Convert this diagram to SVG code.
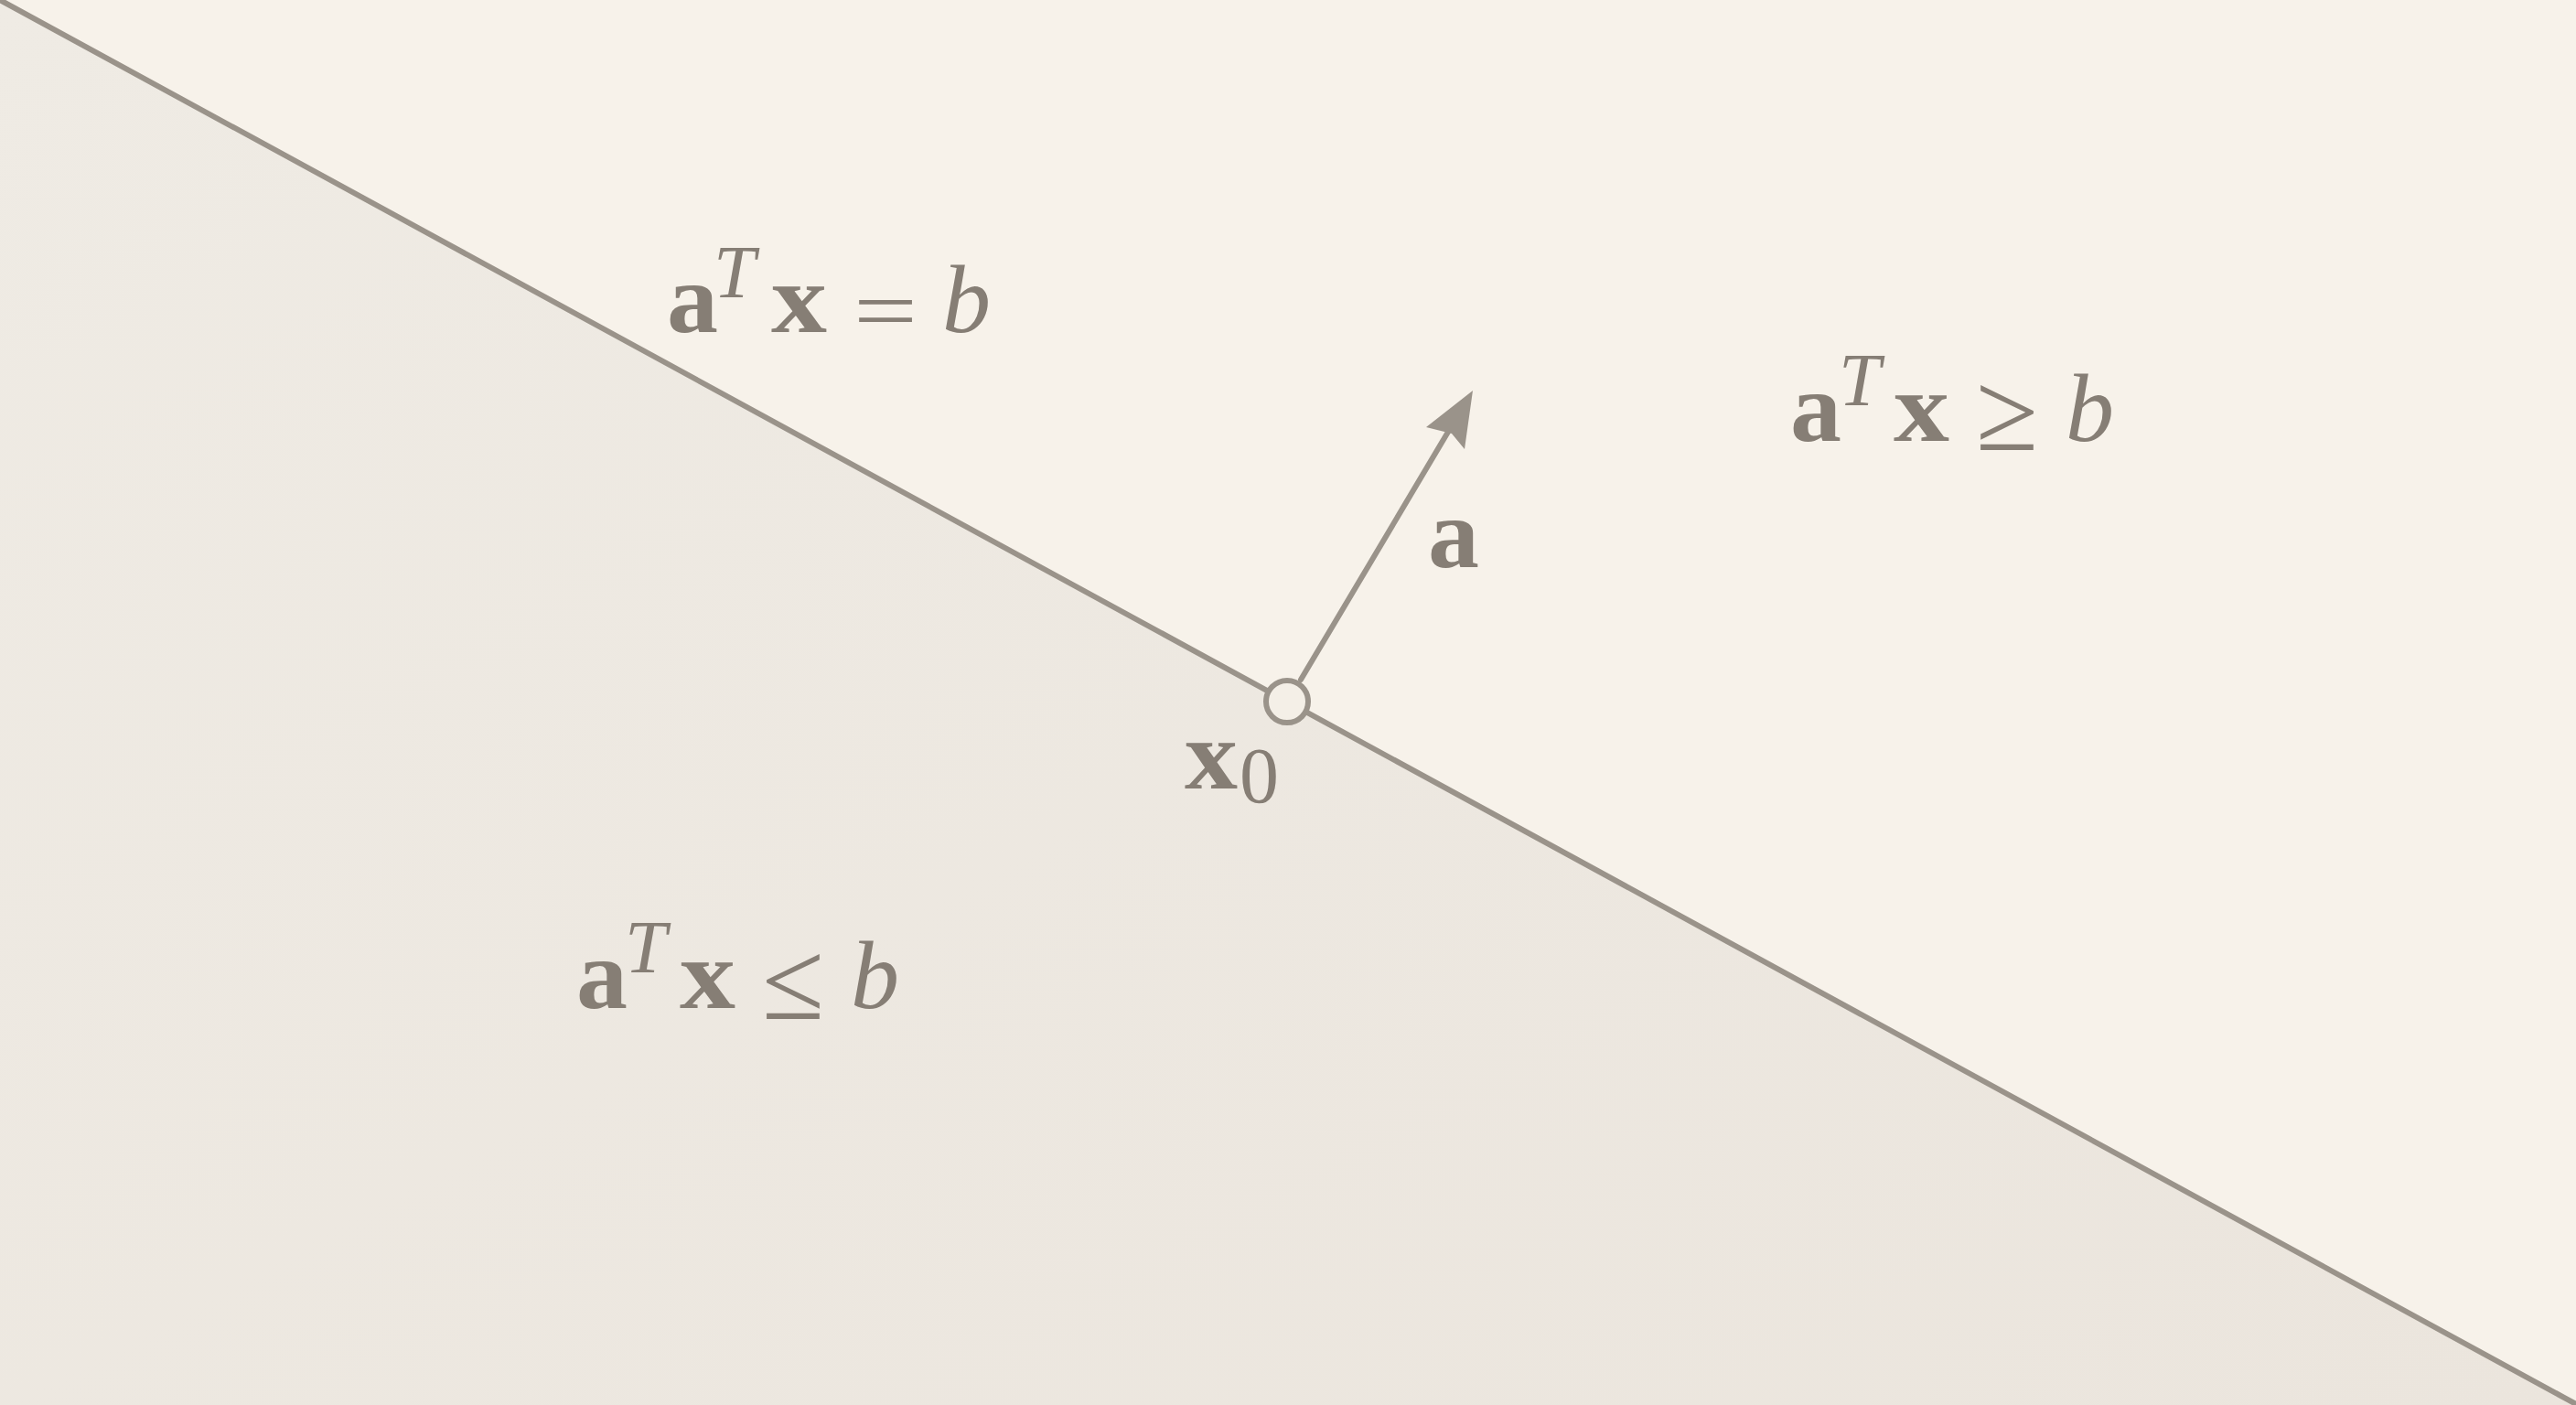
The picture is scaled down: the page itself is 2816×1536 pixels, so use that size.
<svg xmlns="http://www.w3.org/2000/svg" width="2816" height="1536" viewBox="0 0 2816 1536">
<defs>
<style>
.bold{font-family:"Liberation Serif","Times New Roman",serif;font-weight:bold;fill:#867e75}
.ital{font-family:"Liberation Serif","Times New Roman",serif;font-style:italic;fill:#867e75}
.rom{font-family:"Liberation Serif","Times New Roman",serif;fill:#867e75}
.ln{stroke:#9a938a;stroke-width:6;fill:none;stroke-linecap:round}
</style>
<linearGradient id="lowbg" x1="0" y1="0" x2="1" y2="1">
<stop offset="0" stop-color="#efebe4"/>
<stop offset="1" stop-color="#ebe5dd"/>
</linearGradient>
</defs>
<rect x="0" y="0" width="2816" height="1536" fill="#f7f2ea"/>
<polygon points="0,0 2816,1535 2816,1536 0,1536" fill="url(#lowbg)"/>
<g id="connectors">
<line class="ln" x1="0" y1="0" x2="2816" y2="1535"/>
<line class="ln" x1="1422" y1="743" x2="1592" y2="457"/>
<polygon points="1610,427 1559,467 1587,474 1601,491" fill="#9a938a"/>
</g>
<g id="x0-point">
<circle cx="1407" cy="767" r="23" fill="#f4efe7" stroke="#9a938a" stroke-width="6"/>
<text class="bold" x="1295" y="862" font-size="108" textLength="58" lengthAdjust="spacingAndGlyphs">x</text>
<text class="rom" x="1355" y="877" font-size="86">0</text>
</g>
<g id="label-a">
<text class="bold" x="1561" y="620" font-size="108" textLength="56" lengthAdjust="spacingAndGlyphs">a</text>
</g>
<g id="eq-hyperplane">
<text class="bold" x="729" y="363" font-size="108" textLength="56" lengthAdjust="spacingAndGlyphs">a</text>
<text class="ital" x="780" y="325" font-size="82">T</text>
<text class="bold" x="843" y="363" font-size="108" textLength="61" lengthAdjust="spacingAndGlyphs">x</text>
<text class="rom" x="933" y="372" font-size="96" textLength="70" lengthAdjust="spacingAndGlyphs">=</text>
<text class="ital" x="1030" y="363" font-size="106">b</text>
</g>
<g id="eq-ge">
<text class="bold" x="1957" y="482" font-size="108" textLength="56" lengthAdjust="spacingAndGlyphs">a</text>
<text class="ital" x="2010" y="443" font-size="82">T</text>
<text class="bold" x="2070" y="482" font-size="108" textLength="61" lengthAdjust="spacingAndGlyphs">x</text>
<text class="rom" x="2160" y="492" font-size="124">≥</text>
<text class="ital" x="2258" y="482" font-size="106">b</text>
</g>
<g id="eq-le">
<text class="bold" x="630" y="1102" font-size="108" textLength="56" lengthAdjust="spacingAndGlyphs">a</text>
<text class="ital" x="683" y="1063" font-size="82">T</text>
<text class="bold" x="743" y="1102" font-size="108" textLength="61" lengthAdjust="spacingAndGlyphs">x</text>
<text class="rom" x="833" y="1114" font-size="124">≤</text>
<text class="ital" x="930" y="1102" font-size="106">b</text>
</g>
</svg>
